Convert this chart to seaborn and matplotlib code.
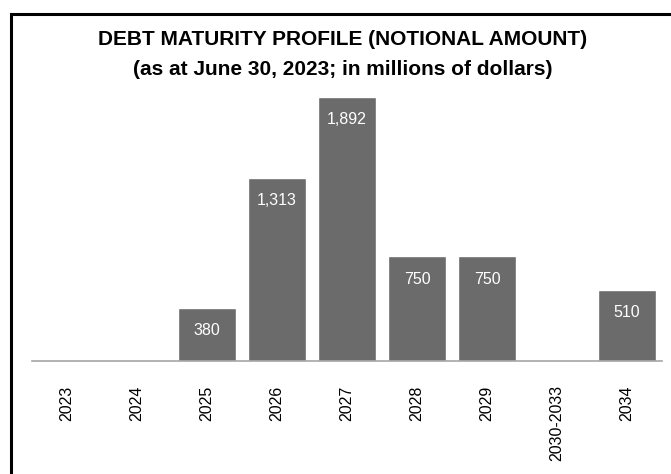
import matplotlib
matplotlib.use("Agg")
import matplotlib.pyplot as plt
import seaborn as sns
import pandas as pd
from matplotlib.patches import Rectangle

years = ["2023", "2024", "2025", "2026", "2027", "2028", "2029", "2030-2033", "2034"]
amounts = [0, 0, 380, 1313, 1892, 750, 750, 0, 510]
labels = ["", "", "380", "1,313", "1,892", "750", "750", "", "510"]

df = pd.DataFrame({"year": years, "amount": amounts})

sns.set_style("white")
plt.rcParams['font.family'] = ['Liberation Sans', 'DejaVu Sans']

W, H = 671, 474
fig = plt.figure(figsize=(W / 100, H / 100), dpi=100)
# axes: x from 32 to 662 px, baseline at y=361 px
ax = fig.add_axes([32 / W, (H - 361) / H, 630 / W, 279 / H])

sns.barplot(data=df, x="year", y="amount", color="#6b6b6b", saturation=1,
            width=0.83, ax=ax)

for i, (v, lab) in enumerate(zip(amounts, labels)):
    if lab:
        ax.annotate(lab, (i, v), xytext=(0, -16.5), textcoords="offset points",
                    ha="center", va="center", color="white", fontsize=11.5)

ax.set_ylim(0, 2000)
ax.set_xlim(-0.5, len(years) - 0.5)
ax.set_xlabel("")
ax.set_ylabel("")
ax.set_yticks([])
for s in ["top", "left", "right"]:
    ax.spines[s].set_visible(False)
ax.spines["bottom"].set_color("#a6a6a6")
ax.spines["bottom"].set_linewidth(1.2)
ax.tick_params(axis="x", length=0, pad=17.5, labelsize=11.5, rotation=90,
               labelcolor="black")
for t in ax.get_xticklabels():
    t.set_va("top")

fig.text(343 / W, 1 - 45 / H, "DEBT MATURITY PROFILE (NOTIONAL AMOUNT)",
         ha="center", va="baseline", fontsize=15, fontweight="bold", color="black")
fig.text(343 / W, 1 - 75 / H, "(as at June 30, 2023; in millions of dollars)",
         ha="center", va="baseline", fontsize=15, fontweight="bold", color="black")

fig.patches.append(Rectangle((10.5 / W, -0.1), 1.2, (H - 14.5) / H + 0.1,
                             transform=fig.transFigure, fill=False,
                             edgecolor="black", linewidth=2.2))

fig.savefig("out.png", dpi=100)
